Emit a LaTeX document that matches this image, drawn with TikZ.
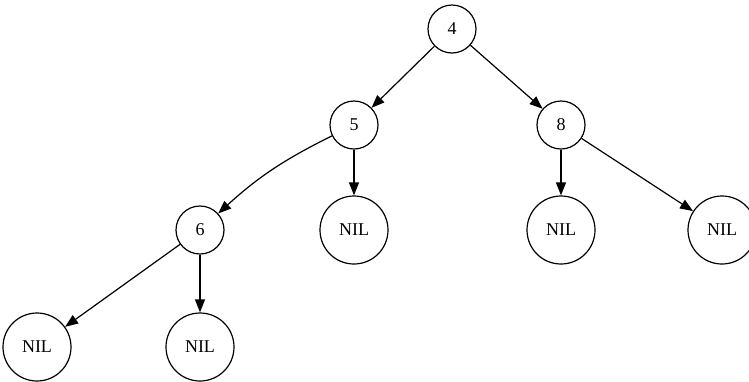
\documentclass[tikz,border=0pt]{standalone}
\usepackage{fontspec}
\setmainfont{Liberation Serif}
\usetikzlibrary{arrows.meta}

\begin{document}
\begin{tikzpicture}[x=1pt,y=1pt,
    keynode/.style={draw,circle,line width=1.2pt,inner sep=0pt,minimum size=48pt,font=\fontsize{18}{20}\selectfont},
    nilnode/.style={draw,circle,line width=1.2pt,inner sep=0pt,minimum size=68pt,font=\fontsize{18}{20}\selectfont},
    edge/.style={-{Triangle[length=13pt,width=10pt]},line width=1.2pt}]
    \useasboundingbox (0,0) rectangle (749,-381);
    \node[keynode] (n4) at (452,-29) {4};
    \node[keynode] (n5) at (354,-125) {5};
    \node[keynode] (n8) at (561,-125) {8};
    \node[keynode] (n6) at (200,-230) {6};
    \node[nilnode] (nil5) at (354,-230) {NIL};
    \node[nilnode] (nil8a) at (561,-230) {NIL};
    \node[nilnode] (nil8b) at (722,-230) {NIL};
    \node[nilnode] (nil6a) at (37,-347) {NIL};
    \node[nilnode] (nil6b) at (200,-347) {NIL};
    \draw[edge] (n4) -- (n5);
    \draw[edge] (n4) -- (n8);
    \draw[edge] (n5) to[bend right=8] (n6);
    \draw[edge] (n5) -- (nil5);
    \draw[edge] (n8) -- (nil8a);
    \draw[edge] (n8) -- (nil8b);
    \draw[edge] (n6) -- (nil6a);
    \draw[edge] (n6) -- (nil6b);
  \end{tikzpicture}
\end{document}
